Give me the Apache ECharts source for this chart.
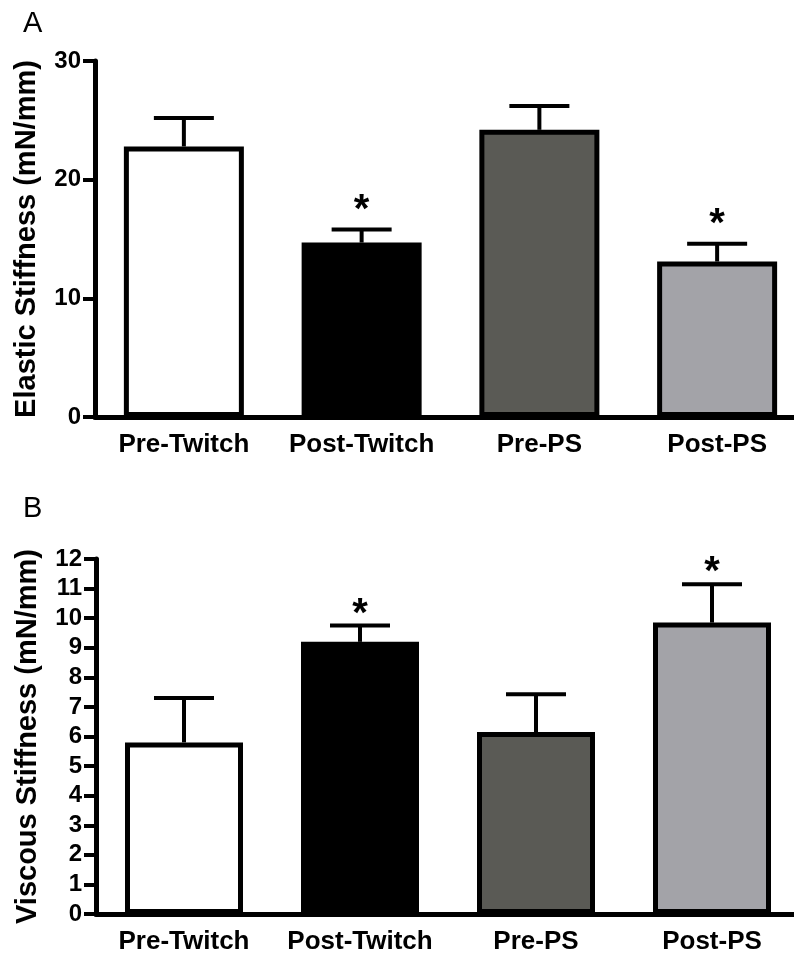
<!DOCTYPE html>
<html>
<head>
<meta charset="utf-8">
<script src="https://cdn.jsdelivr.net/npm/echarts@6/dist/echarts.min.js"></script>
<style>
html, body { margin: 0; padding: 0; background: #fff; }
#chart { width: 794px; height: 954px; }
</style>
</head>
<body>
<div id="chart"></div>
<script>
// categories
const groups = ['Pre-Twitch', 'Post-Twitch', 'Pre-PS', 'Post-PS']
// panel A: elastic stiffness (mN/mm), mean and SEM
const elasticMean = [22.8, 14.7, 24.2, 13.1]
const elasticSem = [2.4, 1.1, 2.0, 1.5]
const elasticSig = ['', '*', '', '*']
// panel B: viscous stiffness (mN/mm), mean and SEM
const viscousMean = [5.8, 9.2, 6.15, 9.85]
const viscousSem = [1.5, 0.55, 1.28, 1.3]
const viscousSig = ['', '*', '', '*']

const barColors = ['#ffffff', '#000000', '#5a5a55', '#a3a3a8']
const FONT = 'Arial, "Liberation Sans", sans-serif'

const chart = echarts.init(document.getElementById('chart'))

function barData (mean) {
  return mean.map((v, i) => ({
    value: v,
    itemStyle: { color: barColors[i], borderColor: '#000', borderWidth: 5 }
  }))
}

function errData (mean, sem, sig) {
  return mean.map((v, i) => [i, v, v + sem[i], sig[i]])
}

// error bar + significance star; gap = px from cap to star centre
function errRenderer (gap) {
  return function (params, api) {
    const base = api.coord([api.value(0), api.value(1)])
    const top = api.coord([api.value(0), api.value(2)])
    const half = 30
    const fs = 40
    const children = [
      { type: 'line', shape: { x1: top[0], y1: base[1], x2: top[0], y2: top[1] }, style: { stroke: '#000', lineWidth: 4 } },
      { type: 'line', shape: { x1: top[0] - half, y1: top[1], x2: top[0] + half, y2: top[1] }, style: { stroke: '#000', lineWidth: 4 } }
    ]
    const sig = api.value(3)
    if (sig) {
      children.push({
        type: 'text',
        style: {
          text: sig, x: top[0], y: top[1] - gap + 0.7 * fs,
          align: 'center', verticalAlign: 'bottom',
          fontSize: fs, fontWeight: 'bold', fontFamily: FONT, fill: '#000'
        }
      })
    }
    return { type: 'group', children: children }
  }
}

function xAxis (gridIndex) {
  return {
    type: 'category',
    gridIndex: gridIndex,
    data: groups,
    axisLine: { lineStyle: { color: '#000', width: 5 } },
    axisTick: { alignWithLabel: true, length: 11, lineStyle: { color: '#000', width: 4 } },
    axisLabel: { interval: 0, color: '#000', fontSize: 26, fontWeight: 'bold', fontFamily: FONT, margin: 15 }
  }
}

function yAxis (gridIndex, max, interval, name) {
  return {
    type: 'value',
    gridIndex: gridIndex,
    min: 0,
    max: max,
    interval: interval,
    name: name,
    nameLocation: 'middle',
    nameGap: 54,
    nameTextStyle: { color: '#000', fontSize: 29, fontWeight: 'bold', fontFamily: FONT },
    splitLine: { show: false },
    axisLine: { show: true, lineStyle: { color: '#000', width: 5 } },
    axisTick: { show: true, length: 12, lineStyle: { color: '#000', width: 4 } },
    axisLabel: { color: '#000', fontSize: 24, fontWeight: 'bold', fontFamily: FONT, margin: 14 }
  }
}

const option = {
  backgroundColor: '#fff',
  animation: false,
  title: [
    { text: 'A', left: 18, top: 4, textStyle: { fontSize: 29, fontWeight: 'normal', fontFamily: FONT, color: '#000' } },
    { text: 'B', left: 18, top: 489, textStyle: { fontSize: 29, fontWeight: 'normal', fontFamily: FONT, color: '#000' } }
  ],
  grid: [
    { left: 95, top: 61, width: 711, height: 356, outerBoundsMode: 'none', containLabel: false },
    { left: 96, top: 559, width: 704, height: 355, outerBoundsMode: 'none', containLabel: false }
  ],
  xAxis: [xAxis(0), xAxis(1)],
  yAxis: [
    yAxis(0, 30, 10, 'Elastic Stiffness (mN/mm)'),
    yAxis(1, 12, 1, 'Viscous Stiffness (mN/mm)')
  ],
  series: [
    { type: 'custom', xAxisIndex: 0, yAxisIndex: 0, renderItem: errRenderer(27), data: errData(elasticMean, elasticSem, elasticSig), z: 1 },
    { type: 'bar', xAxisIndex: 0, yAxisIndex: 0, barWidth: 120, data: barData(elasticMean), z: 2 },
    { type: 'custom', xAxisIndex: 1, yAxisIndex: 1, renderItem: errRenderer(19), data: errData(viscousMean, viscousSem, viscousSig), z: 1 },
    { type: 'bar', xAxisIndex: 1, yAxisIndex: 1, barWidth: 118, data: barData(viscousMean), z: 2 }
  ]
}
chart.setOption(option)
</script>
</body>
</html>
